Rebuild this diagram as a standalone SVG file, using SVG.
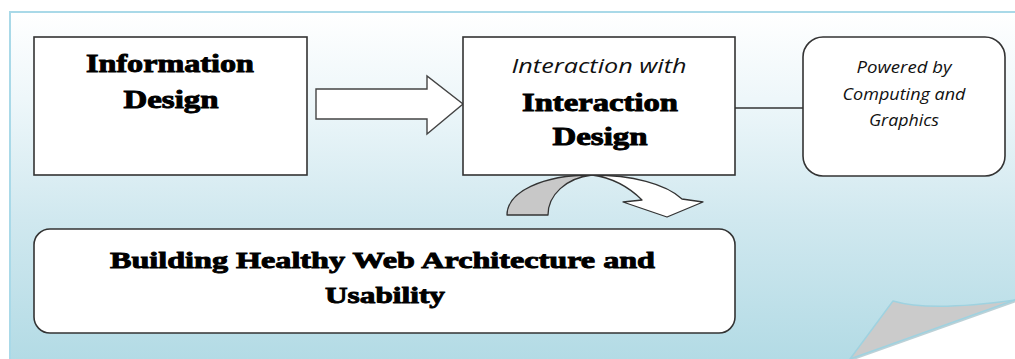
<svg xmlns="http://www.w3.org/2000/svg" width="1015" height="359" viewBox="0 0 1015 359">
<defs>
<linearGradient id="bg" x1="0" y1="12" x2="0" y2="359" gradientUnits="userSpaceOnUse">
<stop offset="0" stop-color="#ffffff"/>
<stop offset="0.25" stop-color="#eef7fa"/>
<stop offset="0.6" stop-color="#d0e8ef"/>
<stop offset="1" stop-color="#b3dbe5"/>
</linearGradient>
<style>
.box{fill:#ffffff;stroke:#333333;stroke-width:1.6}
.bold{font-family:"Liberation Serif","Times New Roman",serif;font-weight:bold;fill:#000;stroke:#000;stroke-width:0.9;text-anchor:middle}
.ital{font-family:"Open Sans","Liberation Sans",sans-serif;font-style:italic;fill:#111;text-anchor:middle}
.conn{fill:none;stroke:#333333;stroke-width:1.4}
</style>
</defs>
<rect x="0" y="0" width="1015" height="359" fill="#ffffff"/>
<g id="background">
<path d="M10,12 L1015,12 L1015,300 L850,359 L10,359 Z" fill="url(#bg)"/>
<path d="M10,359 L10,12 L1015,12" fill="none" stroke="#a9d9e8" stroke-width="2"/>
<path d="M852,359 L1015,301" fill="none" stroke="#8fb2bc" stroke-width="3" opacity="0.6"/>
<path d="M893,301 Q930,312 1015,300 L850,359 Z" fill="#cbcbcb" stroke="#9fd2e0" stroke-width="1.5" stroke-linejoin="round"/>
</g>
<g id="connectors">
<path d="M316,89 L427,89 L427,76 L463,104 L427,134 L427,119 L316,119 Z" fill="#ffffff" stroke="#444444" stroke-width="1.4"/>
<line class="conn" x1="735" y1="108" x2="803" y2="108"/>
<path d="M507,215 C507,192 542,175 592,175 C566,178 548,195 548,215 Z" fill="#c8c8c8" stroke="#333333" stroke-width="1.3" stroke-linejoin="round"/>
<path d="M592,175 C632,175 666,184 682,199 L703,202 L667,217 L623,202 L642,200 C630,188 614,178 592,175 Z" fill="#ffffff" stroke="#333333" stroke-width="1.3" stroke-linejoin="round"/>
</g>
<g id="node-information">
<rect class="box" x="34" y="37" width="273" height="138"/>
<text class="bold" x="170" y="72" font-size="25" textLength="168" lengthAdjust="spacingAndGlyphs">Information</text>
<text class="bold" x="171" y="108" font-size="25" textLength="95" lengthAdjust="spacingAndGlyphs">Design</text>
</g>
<g id="node-interaction">
<rect class="box" x="463" y="37" width="272" height="138"/>
<text class="ital" x="599" y="73" font-size="20" textLength="175" lengthAdjust="spacingAndGlyphs">Interaction with</text>
<text class="bold" x="600" y="111" font-size="25" textLength="156" lengthAdjust="spacingAndGlyphs">Interaction</text>
<text class="bold" x="600" y="145" font-size="25" textLength="95" lengthAdjust="spacingAndGlyphs">Design</text>
</g>
<g id="node-powered">
<rect class="box" x="803" y="37" width="202" height="139" rx="20" ry="20"/>
<text class="ital" x="904" y="73" font-size="15.5" textLength="95" lengthAdjust="spacingAndGlyphs">Powered by</text>
<text class="ital" x="904" y="100" font-size="15.5" textLength="123" lengthAdjust="spacingAndGlyphs">Computing and</text>
<text class="ital" x="904" y="126" font-size="15.5" textLength="70" lengthAdjust="spacingAndGlyphs">Graphics</text>
</g>
<g id="node-building">
<rect class="box" x="34" y="229" width="701" height="104" rx="16" ry="16"/>
<text class="bold" x="382.5" y="268" font-size="24" textLength="545" lengthAdjust="spacingAndGlyphs">Building Healthy Web Architecture and</text>
<text class="bold" x="385" y="303" font-size="24" textLength="120" lengthAdjust="spacingAndGlyphs">Usability</text>
</g>
</svg>
